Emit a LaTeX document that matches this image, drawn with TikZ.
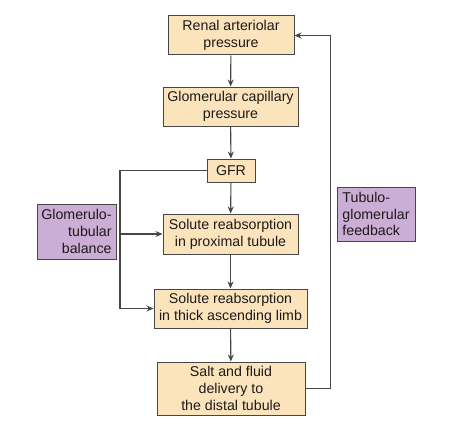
\documentclass[tikz,border=0pt]{standalone}
\usepackage{fontspec}
\setmainfont{Liberation Sans}
\usepackage{tikz}
\usetikzlibrary{positioning}
\usetikzlibrary{arrows}
\usetikzlibrary{arrows.meta}
\definecolor{boxorange}{RGB}{251,228,188}
\definecolor{boxpurple}{RGB}{203,174,213}
\definecolor{linegray}{RGB}{70,70,70}
\definecolor{textdark}{RGB}{30,25,25}

\begin{document}
\begin{tikzpicture}[x=1pt,y=-1pt,
	font=\fontsize{14.2}{16.7}\selectfont,
	stepbox/.style={fill=boxorange,draw=linegray,line width=1pt,text=textdark,inner sep=0pt,align=center},
	sidebox/.style={fill=boxpurple,draw=linegray,line width=1pt,text=textdark,inner sep=0pt}]
	\useasboundingbox (0,0) rectangle (452,428);

	\begin{scope}[every node/.style={stepbox}]
	    \node[minimum width=126pt,minimum height=39pt] (renal) at (231,35.5) {Renal arteriolar\\pressure};
	    \node[minimum width=135pt,minimum height=39pt] (capillary) at (230.5,106.5) {Glomerular capillary\\pressure};
	    \node[minimum width=48pt,minimum height=23pt] (gfr) at (231,170.5) {GFR};
	    \node[minimum width=135pt,minimum height=40pt] (proximal) at (230.5,234) {Solute reabsorption\\in proximal tubule};
	    \node[minimum width=153pt,minimum height=39pt] (thick) at (230.5,308.5) {Solute reabsorption\\in thick ascending limb};
	    \node[minimum width=148pt,minimum height=53pt] (salt) at (231,388.5) {Salt and fluid\\delivery to\\the distal tubule};
	\end{scope}

	\begin{scope}[every node/.style={sidebox}]
	    \node[minimum width=79pt,minimum height=55pt,align=right] (gtbal) at (76.5,231.5) {Glomerulo-\\tubular\\balance};
	    \node[minimum width=78pt,minimum height=54pt,align=left] (tgfb) at (376,214) {Tubulo-\\glomerular\\feedback};
	\end{scope}

	\coordinate (split) at (120,234);

	\begin{scope}[>={Stealth[length=7pt,width=6pt]},
	              every edge/.style={draw=linegray,line width=1.1pt}]
    	\path [->] (renal) edge (capillary);
    	\path [->] (capillary) edge (gfr);
    	\path [->] (gfr) edge (proximal);
    	\path [->] (proximal) edge (thick);
    	\path [->] (thick) edge (salt);
    	\draw [linegray,line width=1.1pt] (gfr.west) -| (split);
    	\draw [->,linegray,line width=1.1pt] (split) -- (proximal.west);
    	\draw [->,linegray,line width=1.1pt] (split) |- (thick.west);
    	\draw [->,linegray,line width=1.1pt] (salt.east) -| ++(25,0) |- (renal.east);
	\end{scope}
\end{tikzpicture}
\end{document}
